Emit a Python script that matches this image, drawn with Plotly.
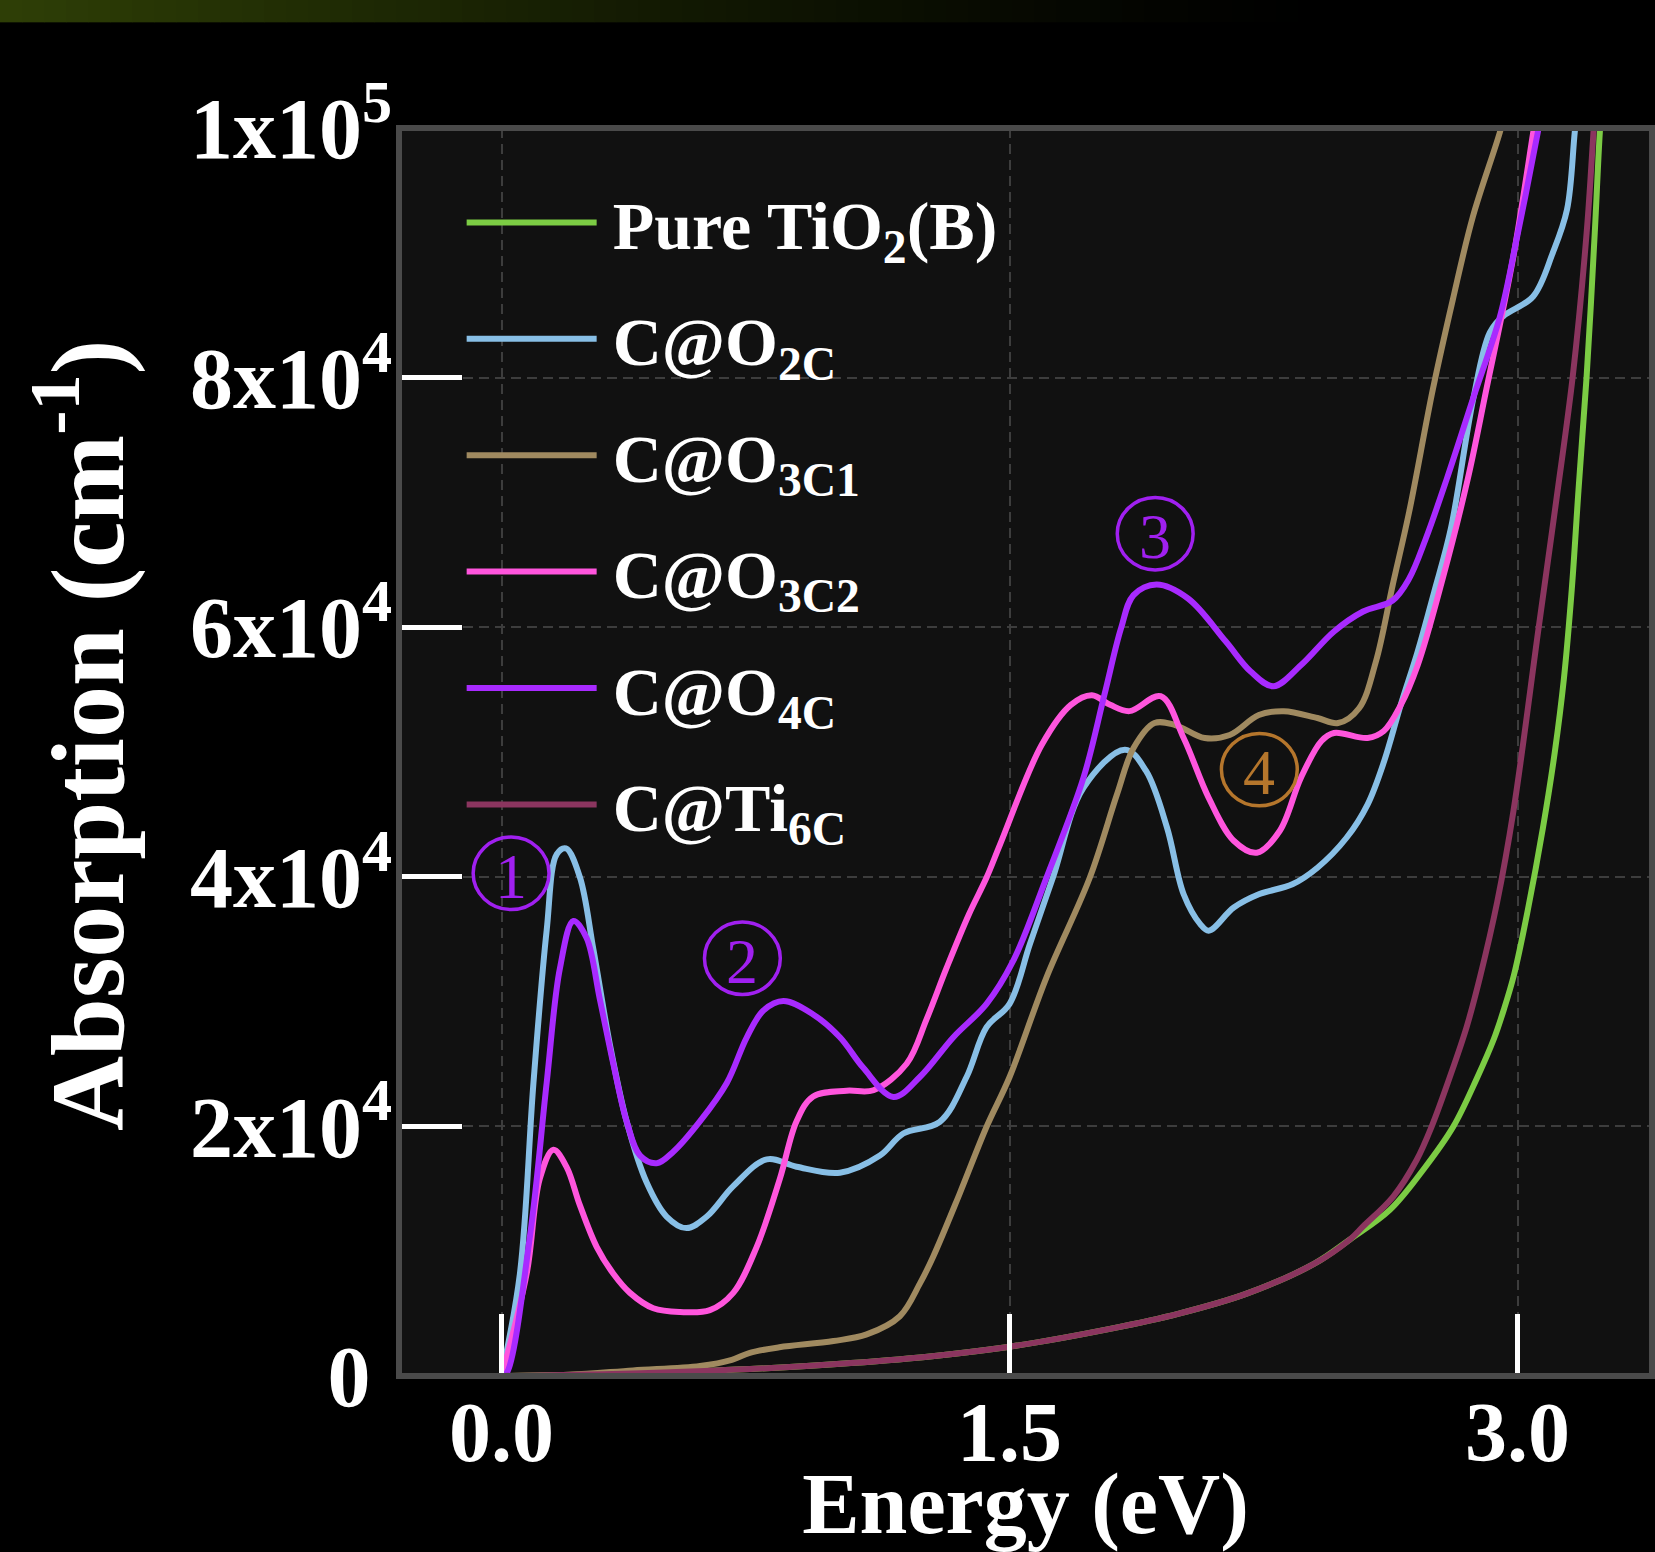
import plotly.graph_objects as go

# ---------------- data ----------------
x_green = [0.0, 0.3, 0.6, 0.9, 1.2, 1.5, 1.8, 2.0, 2.2, 2.4, 2.505, 2.623, 2.721, 2.81, 2.879,
           2.93, 2.96, 2.99, 3.03, 3.075, 3.11, 3.137, 3.16, 3.18, 3.204, 3.228, 3.243, 3.255]
y_green = [0, 150, 400, 800, 1400, 2350, 3800, 5000, 6600, 9000, 10940, 13310, 16510, 19970, 23800,
           27000, 29400, 32200, 37300, 43930, 50000, 55910, 63000, 71000, 80110, 91610, 99680, 104000]

x_blue = [0.0, 0.054, 0.094, 0.133, 0.163, 0.19, 0.231, 0.271, 0.32, 0.369, 0.428, 0.487, 0.546,
          0.606, 0.684, 0.783, 0.871, 0.999, 1.117, 1.186, 1.294, 1.373, 1.432, 1.5, 1.56, 1.628,
          1.718, 1.841, 1.903, 1.965, 2.014, 2.063, 2.088, 2.162, 2.236, 2.335, 2.409, 2.495, 2.557,
          2.606, 2.655, 2.705, 2.754, 2.803, 2.869, 2.918, 2.957, 3.046, 3.104, 3.146, 3.169, 3.185]
y_blue = [0, 8190, 23480, 35700, 41810, 42270, 39980, 34190, 26520, 20420, 15520, 12780, 11850,
          12780, 15210, 17360, 16770, 16290, 17660, 19430, 20370, 23960, 27950, 29820, 34610, 39940,
          47120, 50190, 48480, 43930, 38600, 36210, 35680, 37540, 38600, 39400, 40730, 43130, 45790,
          49260, 53780, 58040, 62840, 67890, 78270, 83600, 84900, 86500, 90000, 93450, 99700, 104000]

x_brown = [0.0, 0.2, 0.388, 0.586, 0.68, 0.733, 0.82, 0.98, 1.078, 1.176, 1.235, 1.275, 1.353,
           1.432, 1.5, 1.609, 1.737, 1.817, 1.866, 1.928, 1.989, 2.076, 2.15, 2.236, 2.31, 2.409,
           2.47, 2.532, 2.582, 2.631, 2.68, 2.75, 2.809, 2.868, 2.948, 2.965]
y_brown = [0, 100, 450, 800, 1300, 1860, 2300, 2800, 3330, 4790, 7400, 9600, 14640,
           19970, 23960, 31950, 39940, 46590, 50320, 52320, 52160, 51120, 51360, 52960, 53270, 52720,
           52320, 53510, 57270, 63340, 69250, 79070, 86260, 92890, 99680, 101500]

x_pink = [0.0, 0.074, 0.113, 0.153, 0.192, 0.231, 0.281, 0.33, 0.379, 0.448, 0.527, 0.615, 0.684,
          0.753, 0.822, 0.871, 0.92, 1.019, 1.098, 1.196, 1.255, 1.314, 1.38, 1.432, 1.472, 1.595,
          1.681, 1.743, 1.797, 1.854, 1.946, 2.014, 2.088, 2.162, 2.23, 2.298, 2.36, 2.421, 2.458,
          2.557, 2.605, 2.655, 2.705, 2.779, 2.853, 2.908, 2.986, 3.046, 3.06]
y_pink = [0, 8190, 15830, 18130, 16740, 13690, 10330, 8190, 6660, 5430, 5130, 5280, 6660,
          10330, 15830, 20420, 22400, 22860, 22900, 25020, 28600, 32700, 37000, 39940, 42600, 50580,
          53780, 54553, 53780, 53275, 54473, 51118, 46325, 42890, 41930, 43690, 47920, 50880, 51520,
          51120, 51680, 53750, 56950, 63900, 71885, 79070, 89460, 99600, 102000]

x_purple = [0.0, 0.015, 0.084, 0.133, 0.172, 0.212, 0.251, 0.29, 0.33, 0.369, 0.409, 0.458, 0.507,
            0.586, 0.665, 0.724, 0.773, 0.832, 0.92, 0.999, 1.068, 1.157, 1.235, 1.334, 1.432,
            1.511, 1.609, 1.718, 1.78, 1.829, 1.866, 1.934, 2.027, 2.138, 2.211, 2.279, 2.36, 2.458,
            2.544, 2.631, 2.68, 2.729, 2.791, 2.868, 2.948, 2.997, 3.06, 3.075]
y_purple = [0, 240, 11260, 23480, 32640, 36460, 35090, 30190, 25000, 20420, 17660, 17050, 17970,
            20420, 23480, 27140, 29280, 30040, 28970, 27140, 24690, 22360, 23960, 27150, 29820,
            33280, 39940, 47920, 54580, 59900, 62570, 63420, 62300, 58870, 56470, 55270, 56950, 59660,
            61260, 62140, 63900, 67090, 71885, 78270, 84900, 91050, 99680, 102000]

x_maroon = [0.0, 0.3, 0.6, 0.9, 1.2, 1.5, 1.8, 2.0, 2.2, 2.4, 2.505, 2.544, 2.633, 2.702, 2.746,
            2.8, 2.85, 2.889, 2.94, 2.988, 3.062, 3.115, 3.163, 3.204, 3.225, 3.235]
y_maroon = [0, 150, 400, 800, 1400, 2350, 3800, 5000, 6600, 9000, 10940, 11980, 14380, 17310, 19970,
            23960, 28000, 31950, 38000, 45290, 59900, 70290, 80110, 91600, 100000, 104000]

names = ["Pure TiO<sub>2</sub>(B)", "C@O<sub>2C</sub>", "C@O<sub>3C1</sub>",
         "C@O<sub>3C2</sub>", "C@O<sub>4C</sub>", "C@Ti<sub>6C</sub>"]
colors = ["#7ccc44", "#88bfe6", "#a08a60", "#ff55dd", "#a82aff", "#8b355f"]

x_tickvals = [0.0, 1.5, 3.0]
x_ticktext = ["0.0", "1.5", "3.0"]
y_tickvals = [0, 20000, 40000, 60000, 80000, 100000]
y_ticktext = ["0&nbsp;", "2x10<sup>4</sup>", "4x10<sup>4</sup>", "6x10<sup>4</sup>",
              "8x10<sup>4</sup>", "1x10<sup>5</sup>"]

# circled peak labels: (label, energy, absorption, colour)
peak_labels = ["1", "2", "3", "4"]
peak_x = [0.028, 0.711, 1.930, 2.2375]
peak_y = [40280, 33470, 67490, 48590]
peak_colors = ["#a020f0", "#a020f0", "#a020f0", "#b5762c"]

# ---------------- figure ----------------
fig = go.Figure()
series = [(x_green, y_green), (x_blue, y_blue), (x_brown, y_brown),
          (x_pink, y_pink), (x_purple, y_purple), (x_maroon, y_maroon)]
pad = '<span style="font-size:44px">&nbsp;</span>'
for (xs, ys), nm, col in zip(series, names, colors):
    fig.add_trace(go.Scatter(x=xs, y=ys, mode="lines", name=pad + nm, legendgroup=nm,
                             line=dict(color=col, width=6, shape="spline", smoothing=1.0)))

serif = "Liberation Serif, Times New Roman, serif"

fig.update_layout(
    width=1655, height=1552,
    margin=dict(l=399, r=3, t=128, b=172),
    paper_bgcolor="#000000", plot_bgcolor="#111111",
    font=dict(family=serif, color="white"),
    showlegend=True,
    legend=dict(x=0.05, y=0.965, xanchor="left", yanchor="top",
                bgcolor="rgba(0,0,0,0)", borderwidth=0,
                font=dict(family=serif, size=68, color="white", weight="bold"),
                itemwidth=130, tracegroupgap=25),
    xaxis=dict(range=[-0.303, 3.397], tickmode="array", tickvals=x_tickvals, ticktext=x_ticktext,
               ticks="inside", ticklen=62, tickwidth=5, tickcolor="white",
               showgrid=True, gridcolor="#3d3d3d", gridwidth=2, griddash="10px,6px",
               zeroline=False, showline=False,
               tickfont=dict(family=serif, size=84, color="white", weight="bold"),
               title=dict(text="Energy (eV)", standoff=10,
                          font=dict(family=serif, size=86, color="white", weight="bold"))),
    yaxis=dict(range=[0, 100000], tickmode="array", tickvals=y_tickvals, ticktext=y_ticktext,
               ticks="inside", ticklen=63, tickwidth=5, tickcolor="white",
               showgrid=True, gridcolor="#3d3d3d", gridwidth=2, griddash="10px,6px",
               zeroline=False, showline=False, ticklabelstandoff=6,
               tickfont=dict(family=serif, size=86, color="white", weight="bold")),
)

# y-axis title placed as a rotated annotation
fig.add_annotation(x=(80 - 399) / 1253, y=(1380 - 737) / 1252, xref="paper", yref="paper",
                   text="Absorption (cm<sup>-1</sup>)", textangle=-90, showarrow=False,
                   xanchor="center", yanchor="middle",
                   font=dict(family=serif, size=104, color="white", weight="bold"))

shapes = []
# green banner at the very top of the page (stepped gradient)
n_steps = 60
band_w = 1320 / n_steps
for i in range(n_steps):
    px0 = i * band_w
    t = (i + 0.5) / n_steps
    k = max(0.0, 1 - t) ** 1.3
    col = "rgb(%d,%d,%d)" % (round(46 * k), round(63 * k), round(6 * k))
    shapes.append(dict(type="rect", xref="paper", yref="paper",
                       x0=(px0 - 399) / 1253, x1=(px0 + band_w + 0.5 - 399) / 1253,
                       y0=(1380 - 22) / 1252, y1=(1380 + 2) / 1252,
                       fillcolor=col, line=dict(width=0), layer="above"))
# frame around the plot area
shapes.append(dict(type="rect", xref="paper", yref="paper", x0=0, x1=1, y0=0, y1=1,
                   line=dict(color="#4a4a4a", width=6), layer="above"))
# ellipses around the peak numbers
for px, py, pc in zip(peak_x, peak_y, peak_colors):
    shapes.append(dict(type="circle", xref="x", yref="y",
                       x0=px - 0.112, x1=px + 0.112, y0=py - 2900, y1=py + 2900,
                       line=dict(color=pc, width=3.5), layer="above"))
fig.update_layout(shapes=shapes)

for lab, px, py, pc in zip(peak_labels, peak_x, peak_y, peak_colors):
    fig.add_annotation(x=px, y=py, xref="x", yref="y", text=lab, showarrow=False,
                       font=dict(family=serif, size=64, color=pc), yshift=-3)

fig.write_html("out.html", config={"displayModeBar": False},
               post_script="document.body.style.margin='0px';"
                           "document.body.style.background='#000';")
